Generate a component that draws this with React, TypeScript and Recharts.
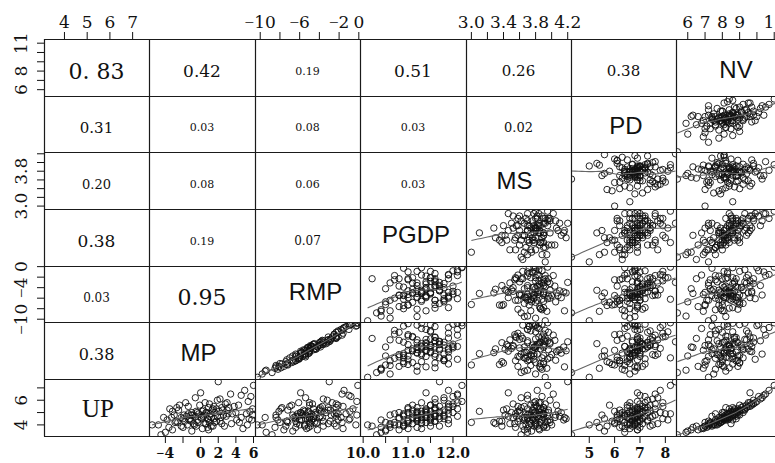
import { ScatterChart, Scatter, XAxis, YAxis } from "recharts";

// one value per observation, same order in every array
const UP = [3.2, 3.5, 3.6, 3.7, 3.8, 3.8, 3.9, 3.9, 4.0, 4.0, 4.1, 4.1, 4.2, 4.2, 4.3, 4.3, 4.4, 4.4, 4.5, 4.5, 4.5, 4.6, 4.6, 4.6, 4.7, 4.7, 4.7, 4.8, 4.8, 4.8, 4.9, 4.9, 4.9, 5.0, 5.0, 5.0, 5.1, 5.1, 5.1, 5.2, 5.2, 5.2, 5.3, 5.3, 5.4, 5.4, 5.5, 5.5, 5.6, 5.7, 5.8, 5.9, 6.0, 6.1, 6.3, 6.5, 6.8, 7.2, 7.5, 4.4, 4.0, 3.7, 4.2, 4.6, 5.6, 4.9, 4.3, 3.9, 5.3, 6.6, 4.5, 5.0, 4.1, 4.8, 5.4, 4.2, 5.8, 4.7, 3.4, 4.4,
  4.3, 4.6, 5.0, 4.1, 4.8, 5.5, 3.8, 4.4, 5.2, 4.9, 4.0, 5.7, 4.5, 3.9, 5.1, 4.7, 4.2, 6.2, 4.6, 5.3, 4.4, 5.0, 4.8, 3.6, 5.6, 4.3, 5.4, 4.1, 4.9, 6.4, 4.5, 5.2, 4.0, 4.7, 5.8, 4.2, 4.6, 5.1, 3.9, 4.8];
const MP = [-4.5, -1.0, -3.2, 0.2, -2.0, 0.8, -0.5, 1.2, -1.5, -5.5, -0.8, 0.5, -2.6, 1.0, -1.8, 2.2, -0.3, -3.8, 0.8, -1.2, 1.5, -2.2, 0.1, 4.6, -0.6, 1.9, -1.6, 0.4, 2.6, -3.0, 1.1, -0.2, 5.2, 1.6, -1.0, 0.7, 2.1, 5.6, -0.5, 1.3, 3.0, 0.3, 1.8, 5.9, 0.9, 2.4, -1.4, 1.5, 4.3, 2.8, 0.5, 5.4, 1.9, 2.2, 5.7, 3.4, 5.0, 6.0, 2.0, 5.8, 5.3, 4.8, -2.9, -4.2, -2.4, 3.6, -1.1, 2.7, -3.5, 0.0, -2.0, 4.0, 0.6, -0.9, 3.2, 1.6, -1.7, 0.3, -4.0, 4.1,
  -2.8, 1.2, -0.4, 2.4, -1.9, 3.8, -3.6, 0.9, -2.5, 3.1, -0.7, 1.0, 5.5, -2.2, 0.2, 2.9, 4.4, -0.6, -3.3, 1.4, -1.3, 0.6, 5.9, 0.9, -0.1, 1.8, -2.7, 3.5, -1.4, 4.6, 0.1, 2.5, -4.8, 1.0, 3.0, -0.3, 2.3, -3.2, 1.4, -1.1];
const RMP = [-8.8, -6.7, -7.6, -5.3, -6.4, -5.1, -5.5, -4.9, -6.0, -10.3, -6.3, -4.3, -8.0, -4.2, -7.3, -2.9, -5.8, -8.2, -5.2, -5.4, -4.6, -6.6, -5.0, -1.8, -6.4, -3.9, -6.1, -4.4, -2.8, -8.4, -4.8, -5.8, -1.3, -3.3, -5.9, -5.2, -3.8, -0.9, -5.1, -4.0, -3.1, -5.6, -4.0, -0.6, -3.9, -3.1, -7.0, -3.7, -2.1, -2.3, -5.0, -0.2, -3.2, -3.6, -0.8, -1.7, -1.5, -0.1, -3.0, -1.0, -0.3, -1.6, -7.2, -9.5, -6.8, -2.5, -6.4, -2.3, -7.9, -5.9, -6.4, -2.3, -4.9, -5.4, -2.3, -4.5, -6.1, -4.6, -9.4, -2.1,
  -7.3, -4.0, -5.9, -3.1, -6.7, -1.6, -8.5, -4.8, -7.2, -2.1, -5.5, -4.7, -0.9, -7.4, -5.5, -2.3, -1.7, -5.4, -8.4, -4.6, -6.0, -4.4, -0.2, -4.2, -5.0, -3.6, -7.8, -2.5, -6.2, -1.0, -5.0, -2.9, -9.8, -4.9, -2.7, -5.0, -3.7, -8.1, -3.6, -5.7];
const PGDP = [10.3, 10.5, 10.8, 11.0, 10.6, 11.2, 10.9, 11.5, 10.7, 10.1, 11.3, 11.1, 10.9, 11.4, 11.0, 11.6, 11.2, 10.4, 11.5, 10.8, 11.7, 11.3, 11.1, 11.4, 11.6, 10.9, 11.8, 11.2, 11.5, 10.6, 11.3, 11.9, 11.6, 11.4, 11.0, 12.0, 11.7, 11.5, 11.3, 11.8, 11.1, 11.9, 11.4, 12.1, 11.6, 11.2, 11.7, 12.0, 11.5, 11.9, 11.3, 12.2, 11.8, 11.6, 12.0, 12.1, 11.9, 12.2, 11.7, 11.0, 10.9, 11.3, 10.5, 11.2, 11.1, 10.7, 11.6, 10.2, 11.6, 11.4, 11.8, 10.8, 11.9, 10.9, 11.0, 11.3, 12.1, 11.7, 10.4, 11.5,
  11.0, 11.5, 11.2, 10.6, 11.8, 11.9, 10.4, 11.3, 11.6, 11.1, 10.8, 12.0, 11.2, 10.9, 11.4, 11.6, 10.7, 11.8, 11.4, 11.0, 11.9, 11.7, 11.3, 10.5, 11.5, 11.2, 11.9, 11.0, 10.9, 12.1, 11.1, 11.4, 10.6, 12.1, 11.6, 11.5, 10.8, 11.2, 11.7, 11.4];
const MS = [3.62, 3.75, 3.85, 3.7, 3.55, 3.9, 3.78, 3.82, 3.68, 3.92, 3.74, 3.3, 3.86, 3.8, 3.72, 3.95, 3.66, 3.88, 3.78, 3.6, 3.84, 3.9, 3.76, 3.7, 3.82, 3.86, 3.95, 3.42, 3.8, 3.74, 3.9, 3.68, 3.72, 3.85, 3.78, 3.6, 3.92, 3.8, 3.1, 3.76, 3.88, 3.96, 3.7, 3.84, 3.78, 3.9, 3.66, 3.82, 3.74, 3.92, 3.86, 3.8, 3.98, 3.7, 3.88, 4.02, 3.82, 3.95, 4.2, 3.76, 3.72, 3.84, 3.0, 3.66, 3.8, 3.9, 3.58, 3.64, 3.86, 3.46, 3.7, 3.96, 3.8, 3.9, 3.62, 3.98, 3.78, 4.1, 3.7, 3.8,
  3.35, 3.52, 4.12, 3.48, 4.05, 3.58, 3.94, 4.15, 3.4, 3.55, 4.0, 3.52, 3.64, 3.38, 4.08, 3.56, 3.92, 3.62, 4.16, 3.44, 3.98, 3.5, 3.78, 3.66, 4.06, 3.38, 3.9, 3.54, 3.88, 3.7, 4.18, 3.6, 3.8, 3.46, 3.84, 3.28, 4.04, 3.58, 3.9, 3.7];
const PD = [4.3, 5.6, 6.9, 6.6, 6.2, 7.0, 6.7, 6.9, 6.5, 5.0, 6.8, 7.1, 6.6, 6.4, 6.9, 6.7, 7.0, 6.3, 6.8, 6.6, 7.1, 6.5, 6.9, 6.8, 7.0, 6.7, 7.2, 6.6, 6.9, 6.4, 7.0, 6.8, 6.5, 7.1, 6.7, 6.9, 7.0, 6.8, 6.6, 7.2, 6.9, 6.7, 7.0, 6.8, 7.3, 6.9, 6.6, 7.1, 7.4, 7.0, 7.2, 6.9, 7.3, 7.5, 7.2, 7.6, 7.8, 8.2, 8.4, 6.7, 6.8, 6.4, 6.0, 6.8, 5.8, 6.2, 7.0, 6.3, 6.9, 6.9, 6.2, 7.3, 6.6, 7.6, 6.5, 5.3, 6.6, 6.9, 6.4, 8.1,
  5.9, 7.4, 6.3, 7.7, 6.1, 7.9, 5.4, 7.3, 6.2, 8.0, 7.5, 7.6, 7.9, 5.7, 6.0, 7.5, 6.9, 7.7, 6.8, 7.6, 6.1, 7.8, 6.4, 6.9, 6.5, 7.3, 7.2, 6.0, 8.2, 7.0, 5.6, 7.4, 6.6, 6.4, 7.9, 6.8, 6.1, 7.1, 7.4, 5.5];
const NV = [5.4, 6.0, 6.6, 6.9, 7.1, 6.3, 7.4, 7.0, 7.6, 7.2, 7.8, 7.5, 7.9, 7.3, 8.0, 7.7, 8.1, 7.6, 8.2, 7.9, 8.4, 8.0, 8.3, 7.8, 8.5, 8.1, 8.6, 8.2, 8.7, 8.0, 8.4, 8.8, 8.3, 8.6, 8.9, 8.5, 8.8, 9.0, 8.6, 9.1, 8.7, 9.2, 8.9, 9.3, 9.1, 9.4, 9.2, 9.6, 9.4, 9.8, 9.5, 10.0, 9.8, 10.2, 10.1, 10.5, 10.7, 11.0, 11.3, 8.3, 7.4, 6.8, 7.0, 8.2, 9.0, 7.6, 7.2, 6.5, 8.4, 9.6, 8.8, 8.0, 8.5, 9.0, 8.2, 7.8, 9.9, 7.4, 5.9, 8.6,
  7.8, 8.4, 8.1, 7.2, 8.9, 9.5, 6.9, 7.9, 9.0, 8.3, 7.7, 9.7, 8.1, 7.0, 8.5, 8.8, 7.6, 10.3, 8.1, 8.7, 8.2, 9.2, 8.6, 6.2, 9.7, 8.0, 8.6, 7.3, 8.4, 10.4, 8.1, 9.3, 7.5, 8.4, 9.6, 7.9, 8.2, 8.9, 7.2, 8.6];

// correlation text, upper-left triangle, row by row
const corrText = [
  ["0. 83", "0.42", "0.19", "0.51", "0.26", "0.38"],
  ["0.31", "0.03", "0.08", "0.03", "0.02"],
  ["0.20", "0.08", "0.06", "0.03"],
  ["0.38", "0.19", "0.07"],
  ["0.03", "0.95"],
  ["0.38"],
];
const corrSize = [
  [22, 17, 11, 17, 15, 15],
  [15, 11, 11, 11, 13],
  [13, 11, 11, 11],
  [17, 11, 12],
  [12, 22],
  [16],
];

type Var = {
  values: number[];
  domain: [number, number];
  ticks: number[];
  xLabels: number[];
  yLabels: number[];
  digits: number;
};

const vars: Record<string, Var> = {
  UP: { values: UP, domain: [3.1, 7.72], ticks: [4, 5, 6, 7], xLabels: [4, 5, 6, 7], yLabels: [4, 6], digits: 0 },
  MP: { values: MP, domain: [-5.86, 6.17], ticks: [-4, -2, 0, 2, 4, 6], xLabels: [-4, 0, 2, 4, 6], yLabels: [-4, 0, 4], digits: 0 },
  RMP: { values: RMP, domain: [-10.53, 0.12], ticks: [-10, -8, -6, -4, -2, 0], xLabels: [-10, -6, -2, 0], yLabels: [-10, -4, 0], digits: 0 },
  PGDP: { values: PGDP, domain: [9.93, 12.29], ticks: [10, 10.5, 11, 11.5, 12], xLabels: [10, 11, 12], yLabels: [10, 11, 12], digits: 1 },
  MS: { values: MS, domain: [2.933, 4.241], ticks: [3.0, 3.2, 3.4, 3.6, 3.8, 4.0, 4.2], xLabels: [3.0, 3.4, 3.8, 4.2], yLabels: [3.0, 3.8], digits: 1 },
  PD: { values: PD, domain: [4.28, 8.42], ticks: [5, 6, 7, 8], xLabels: [5, 6, 7, 8], yLabels: [5, 7], digits: 0 },
  NV: { values: NV, domain: [5.32, 11.45], ticks: [6, 7, 8, 9, 10, 11], xLabels: [6, 7, 8, 9, 11], yLabels: [6, 8, 11], digits: 0 },
};

const colNames = ["UP", "MP", "RMP", "PGDP", "MS", "PD", "NV"];
const rowNames = ["NV", "PD", "MS", "PGDP", "RMP", "MP", "UP"];

const gx = [44, 149, 255, 360, 466, 571, 676, 782];
const gy = [39, 96, 152, 209, 266, 322, 379, 436];
const TOPH = 39;
const LEFTW = 44;
const BOTH = 27;
const PAD = 24; // room so edge tick labels are not cut off

const SERIF = "'DejaVu Serif', serif";
const TIMES = "'Liberation Serif', serif";

// minus sign drawn in the narrower Times-like face, digits in the wide serif
const fmt = (v: number, d: number) => {
  const s = Math.abs(v).toFixed(d);
  return v < 0 ? (
    <>
      <tspan fontFamily={TIMES}>{"\u2212"}</tspan>
      {s}
    </>
  ) : (
    s
  );
};

// local weighted regression, like R's panel.smooth (no robustness steps)
function lowess(pts: { x: number; y: number }[]) {
  const n = pts.length;
  const k = Math.ceil((n * 2) / 3);
  const xsv = pts.map((p) => p.x);
  const lo = Math.min(...xsv);
  const hi = Math.max(...xsv);
  const out: { x: number; y: number }[] = [];
  for (let i = 0; i <= 30; i++) {
    const x0 = lo + ((hi - lo) * i) / 30;
    const d = xsv.map((x) => Math.abs(x - x0));
    const h = [...d].sort((a, b) => a - b)[k - 1] * 1.0001 + 1e-9;
    let sw = 0, sx = 0, sy = 0, sxx = 0, sxy = 0;
    pts.forEach((p, j) => {
      const u = d[j] / h;
      if (u < 1) {
        const w = Math.pow(1 - u * u * u, 3);
        sw += w; sx += w * p.x; sy += w * p.y; sxx += w * p.x * p.x; sxy += w * p.x * p.y;
      }
    });
    const mx = sx / sw, my = sy / sw, vxx = sxx / sw - mx * mx;
    const b = vxx > 1e-12 ? (sxy / sw - mx * my) / vxx : 0;
    out.push({ x: x0, y: my + b * (x0 - mx) });
  }
  return out;
}

const Ring = (p: any) => <circle cx={p.cx} cy={p.cy} r={3.2} fill="none" stroke="#111" strokeWidth={0.9} />;
const Empty = () => <g />;

const topTick = (v: Var) => (p: any) => (
  <text x={p.x} y={p.y} textAnchor="middle" fontFamily={SERIF} fontSize={17} fill="#111">
    {v.xLabels.includes(p.payload.value) ? fmt(p.payload.value, v.digits) : ""}
  </text>
);
const bottomTick = (v: Var) => (p: any) => (
  <text x={p.x} y={p.y + 13} textAnchor="middle" fontFamily={SERIF} fontWeight="bold" fontSize={14} fill="#111">
    {v.xLabels.includes(p.payload.value) ? fmt(p.payload.value, v.digits) : ""}
  </text>
);
const leftTick = (v: Var) => (p: any) => {
  const x = p.x - 8;
  return (
    <text x={x} y={p.y} transform={`rotate(-90 ${x} ${p.y})`} textAnchor="middle" fontFamily={SERIF} fontSize={17} fill="#111">
      {v.yLabels.includes(p.payload.value) ? fmt(p.payload.value, v.digits) : ""}
    </text>
  );
};

function Panel({ r, c }: { r: number; c: number }) {
  const xv = vars[colNames[c]];
  const yv = vars[rowNames[r]];
  const isScatter = r + c > 6;
  const top = r === 0 && c % 2 === 0;
  const bottom = r === 6 && c % 2 === 1;
  const left = c === 0 && r % 2 === 0;
  if (!isScatter && !top && !left) return null;
  const w = gx[c + 1] - gx[c] + (left ? LEFTW : 0) + 2 * PAD;
  const h = gy[r + 1] - gy[r] + (top ? TOPH : 0) + (bottom ? BOTH : 0) + 2 * PAD;
  const pts = xv.values.map((x, i) => ({ x, y: yv.values[i] }));
  const sm = isScatter ? lowess(pts) : [];
  return (
    <div style={{ position: "absolute", left: gx[c] - (left ? LEFTW : 0) - PAD, top: gy[r] - (top ? TOPH : 0) - PAD }}>
      <ScatterChart width={w} height={h} margin={{ top: PAD, right: PAD, bottom: PAD, left: PAD }}>
        <XAxis
          type="number"
          dataKey="x"
          domain={xv.domain}
          allowDataOverflow
          ticks={xv.ticks}
          interval={0}
          hide={!(top || bottom)}
          orientation={top ? "top" : "bottom"}
          height={top ? TOPH : BOTH}
          axisLine={false}
          tickLine={{ stroke: "#111" }}
          tickSize={7}
          tickMargin={top ? 4 : 2}
          tick={top ? topTick(xv) : bottomTick(xv)}
        />
        <YAxis
          type="number"
          dataKey="y"
          domain={yv.domain}
          allowDataOverflow
          ticks={yv.ticks}
          interval={0}
          hide={!left}
          width={LEFTW}
          axisLine={false}
          tickLine={{ stroke: "#111" }}
          tickSize={7}
          tick={leftTick(yv)}
        />
        <Scatter data={isScatter ? pts : []} shape={Ring} isAnimationActive={false} />
        {isScatter && (
          <Scatter data={sm} shape={Empty} line={{ stroke: "#666", strokeWidth: 1.1 }} isAnimationActive={false} />
        )}
      </ScatterChart>
    </div>
  );
}

// small nudges for the diagonal names, as in the picture
const diagShift: [number, number][] = [[7, 1.5], [2.5, 1.5], [-4, 0], [3, -3], [8, -3], [-3.5, 1.5], [1.5, 1]];

export default function App() {
  const cells: JSX.Element[] = [];
  for (let r = 0; r < 7; r++) for (let c = 0; c < 7; c++) cells.push(<Panel key={`${r}-${c}`} r={r} c={c} />);

  const texts: JSX.Element[] = [];
  corrText.forEach((row, r) =>
    row.forEach((t, c) => {
      const cx = (gx[c] + gx[c + 1]) / 2;
      const cy = (gy[r] + gy[r + 1]) / 2 + 3.5;
      const fs = corrSize[r][c];
      texts.push(
        <text key={`t${r}${c}`} x={cx} y={cy + fs * 0.36} textAnchor="middle" fontFamily={SERIF} fontSize={fs} fill="#111" style={{ whiteSpace: "pre" }}>
          {t}
        </text>
      );
    })
  );
  rowNames.forEach((name, r) => {
    const c = 6 - r;
    const cx = (gx[c] + gx[c + 1]) / 2 + diagShift[r][0];
    const cy = (gy[r] + gy[r + 1]) / 2 + diagShift[r][1];
    const serif = name === "UP";
    const fs = serif ? 25 : 24;
    texts.push(
      <text key={`d${r}`} x={cx} y={cy + fs * (serif ? 0.33 : 0.36)} textAnchor="middle" fontFamily={serif ? TIMES : "'Liberation Sans', Arial, sans-serif"} fontSize={fs} fill="#111">
        {name}
      </text>
    );
  });

  const lines: JSX.Element[] = [];
  gx.forEach((x, i) => lines.push(<line key={`vx${i}`} x1={x + 0.5} x2={x + 0.5} y1={gy[0]} y2={gy[7] + 0.5} stroke="#1a1a1a" strokeWidth={1.2} />));
  gy.forEach((y, i) => lines.push(<line key={`hy${i}`} x1={gx[0]} x2={gx[7]} y1={y + 0.5} y2={y + 0.5} stroke="#1a1a1a" strokeWidth={1.2} />));

  return (
    <div style={{ position: "absolute", left: 0, top: 0, width: 775, height: 463, overflow: "hidden", background: "#fff" }}>
      {cells}
      <svg width={775} height={463} style={{ position: "absolute", left: 0, top: 0, pointerEvents: "none" }}>
        {lines}
        {texts}
      </svg>
    </div>
  );
}
